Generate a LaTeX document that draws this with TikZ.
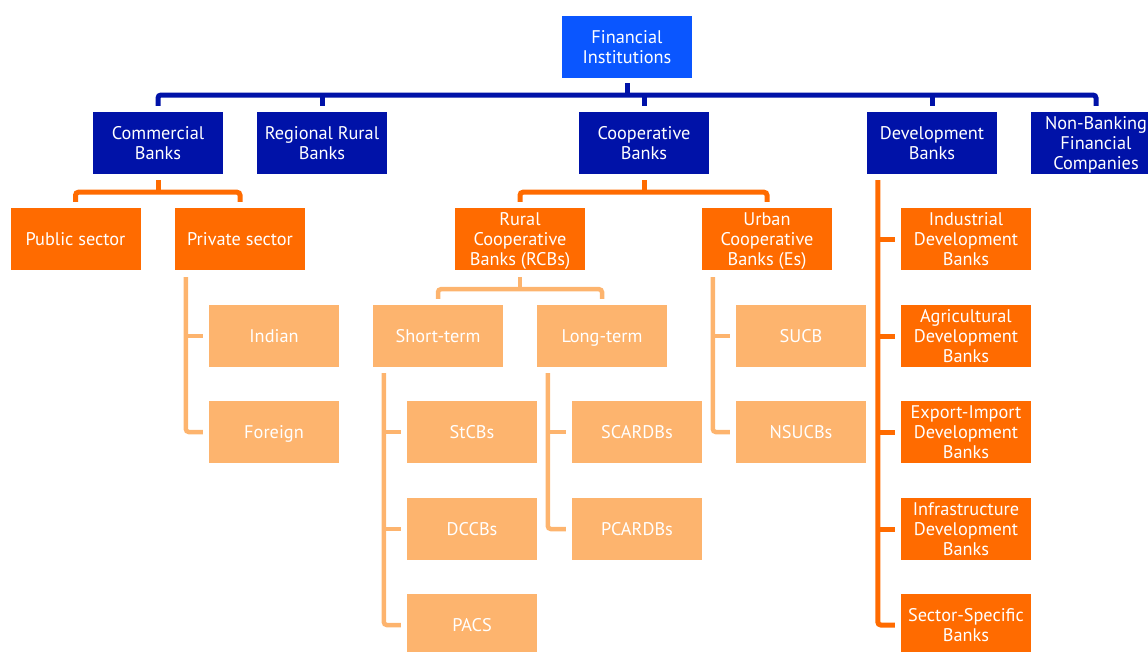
\documentclass[tikz,border=0pt]{standalone}
\usepackage{fontspec}
\setmainfont{PT Sans}
\usetikzlibrary{calc}
\definecolor{rootblue}{HTML}{0A56FF}
\definecolor{deepblue}{HTML}{0012A8}
\definecolor{hotorange}{HTML}{FF6B00}
\definecolor{softorange}{HTML}{FDB46E}
\tikzset{
  box/.style={rectangle, inner sep=0pt, minimum width=130pt, minimum height=62pt,
    align=center, text=white, font=\fontsize{18.3}{20}\selectfont,
    execute at begin node=\vphantom{A}, text depth=0pt},
  rootbox/.style={box, fill=rootblue},
  bluebox/.style={box, fill=deepblue},
  orangebox/.style={box, fill=hotorange},
  lightbox/.style={box, fill=softorange},
  bluelink/.style={draw=deepblue, line width=5pt, rounded corners=3pt},
  orangelink/.style={draw=hotorange, line width=5pt, rounded corners=3pt},
  lightlink/.style={draw=softorange, line width=4.5pt, rounded corners=3pt},
}
\begin{document}
\begin{tikzpicture}[x=1pt, y=-1pt]
\useasboundingbox (0,0) rectangle (1148,651);
\clip (0,0) rectangle (1148,651);

% root
\node[rootbox] (fi) at (627,47) {Financial\\Institutions};

% first level
\node[bluebox] (cb)   at (158,143)  {Commercial\\Banks};
\node[bluebox] (rrb)  at (322,143)  {Regional Rural\\Banks};
\node[bluebox] (coop) at (644,143)  {Cooperative\\Banks};
\node[bluebox] (dev)  at (932,143)  {Development\\Banks};
\node[bluebox] (nbfc) at (1096,143) {Non-Banking\\Financial\\Companies};

% second level
\node[orangebox] (pub)  at (75.5,239) {Public sector};
\node[orangebox] (priv) at (240,239)  {Private sector};
\node[orangebox] (rcb)  at (520,239)  {Rural\\Cooperative\\Banks (RCBs)};
\node[orangebox] (ucb)  at (767,239)  {Urban\\Cooperative\\Banks (Es)};

% development banks
\node[orangebox] (idb)  at (966,239) {Industrial\\Development\\Banks};
\node[orangebox] (adb)  at (966,336) {Agricultural\\Development\\Banks};
\node[orangebox] (exim) at (966,432) {Export-Import\\Development\\Banks};
\node[orangebox] (infr) at (966,529) {Infrastructure\\Development\\Banks};
\node[orangebox] (ssb)  at (966,625) {Sector-Specific\\Banks};

% third level
\node[lightbox] (ind)   at (274,336) {Indian};
\node[lightbox] (forn)  at (274,432) {Foreign};
\node[lightbox] (short) at (438,336) {Short-term};
\node[lightbox] (long)  at (602,336) {Long-term};
\node[lightbox] (sucb)  at (801,336) {SUCB};
\node[lightbox] (nsucb) at (801,432) {NSUCBs};
\node[lightbox] (stcb)  at (472,432) {StCBs};
\node[lightbox] (dccb)  at (472,529) {DCCBs};
\node[lightbox] (pacs)  at (472,625) {PACS};
\node[lightbox] (scard) at (637,432) {SCARDBs};
\node[lightbox] (pcard) at (637,529) {PCARDBs};

% root bus
\coordinate (bus) at (0,95);
\draw[bluelink] ([yshift=-5pt]fi.south) -- (fi.south |- bus);
\draw[bluelink] ([yshift=6pt]cb.north) |- (bus -| nbfc.north) -- ([yshift=6pt]nbfc.north);
\foreach \n in {rrb,coop,dev}
  \draw[bluelink] (\n.north |- bus) -- ([yshift=6pt]\n.north);

% commercial banks bracket
\draw[orangelink] ([yshift=-6pt]cb.south) -- ($(cb.south)+(0,18)$);
\draw[orangelink] ([yshift=6pt]pub.north) |- ($(cb.south)+(0,18)$) -| ([yshift=6pt]priv.north);

% cooperative banks bracket
\draw[orangelink] ([yshift=-6pt]coop.south) -- ($(coop.south)+(0,18)$);
\draw[orangelink] ([yshift=6pt]rcb.north) |- ($(coop.south)+(0,18)$) -| ([yshift=6pt]ucb.north);

% rural cooperative bracket
\draw[lightlink] ([yshift=-7pt]rcb.south) -- ($(rcb.south)+(0,19)$);
\draw[lightlink] ([yshift=6pt]short.north) |- ($(rcb.south)+(0,19)$) -| ([yshift=6pt]long.north);

% private sector spine
\draw[lightlink] ($(ind.west |- priv.south)+(-23,7)$) |- ([xshift=-6pt]forn.west);
\draw[lightlink] ($(ind.west)+(-23,0)$) -- ([xshift=-6pt]ind.west);

% short-term spine
\draw[lightlink] ($(stcb.west |- short.south)+(-23,6)$) |- ([xshift=-6pt]pacs.west);
\foreach \n in {stcb,dccb}
  \draw[lightlink] ($(\n.west)+(-23,0)$) -- ([xshift=-6pt]\n.west);

% long-term spine
\draw[lightlink] ($(scard.west |- long.south)+(-24,6)$) |- ([xshift=-6pt]pcard.west);
\draw[lightlink] ($(scard.west)+(-24,0)$) -- ([xshift=-6pt]scard.west);

% urban cooperative spine
\draw[lightlink] ($(sucb.west |- ucb.south)+(-23,7)$) |- ([xshift=-6pt]nsucb.west);
\draw[lightlink] ($(sucb.west)+(-23,0)$) -- ([xshift=-6pt]sucb.west);

% development banks spine
\draw[orangelink] ($(idb.west |- dev.south)+(-23,6)$) |- ([xshift=-6pt]ssb.west);
\foreach \n in {idb,adb,exim,infr}
  \draw[orangelink] ($(\n.west)+(-23,0)$) -- ([xshift=-6pt]\n.west);
\end{tikzpicture}
\end{document}
